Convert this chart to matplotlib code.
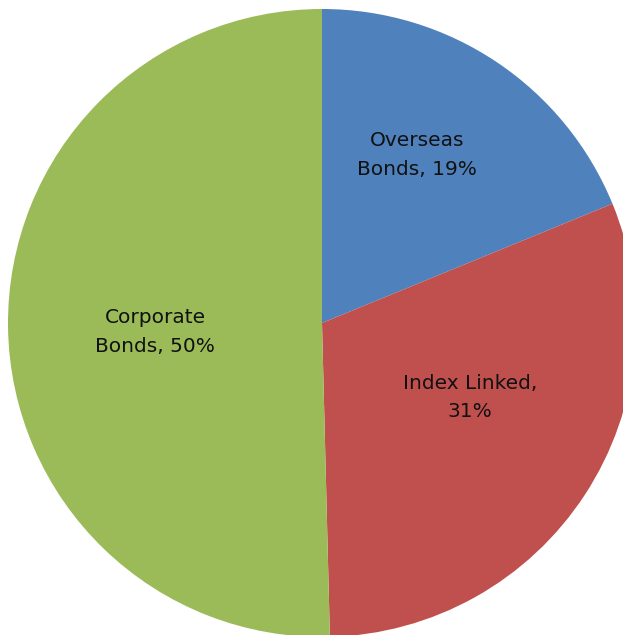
"""Pie chart of bond allocation."""

import matplotlib
import matplotlib.pyplot as plt
import numpy as np

matplotlib.use("Agg")

categories = ["Overseas Bonds", "Index Linked", "Corporate Bonds"]
shares = [18.8, 30.8, 50.4]
share_labels = ["Overseas\nBonds, 19%", "Index Linked,\n31%", "Corporate\nBonds, 50%"]

colors = ["#4F81BD", "#C0504D", "#9BBB59"]
label_radius = [0.615, 0.527, 0.532]
label_shift_deg = [4.3, 6.4, 2.4]  # counter-clockwise nudge from the wedge middle

W, H = 623, 635
CX, CY, R = 322, 323, 314


def main() -> None:
    fig = plt.figure(figsize=(W / 100, H / 100), dpi=100)
    ax = fig.add_axes([0, 0, 1, 1])

    wedges, _ = ax.pie(
        shares,
        colors=colors,
        startangle=90,
        counterclock=False,
        radius=1.0,
        center=(0, 0),
        frame=True,
        wedgeprops=dict(linewidth=0),
    )
    ax.set_xlim(-CX / R, (W - CX) / R)
    ax.set_ylim(-(H - CY) / R, CY / R)
    ax.axis("off")

    for wedge, text, dist, shift in zip(wedges, share_labels, label_radius, label_shift_deg):
        mid = np.deg2rad((wedge.theta1 + wedge.theta2) / 2.0 + shift)
        ax.text(
            dist * np.cos(mid),
            dist * np.sin(mid),
            text,
            ha="center",
            va="center",
            fontsize=14.5,
            color="#111111",
            linespacing=1.65,
        )

    fig.savefig("out.png", dpi=100)
    plt.close(fig)


if __name__ == "__main__":
    main()
